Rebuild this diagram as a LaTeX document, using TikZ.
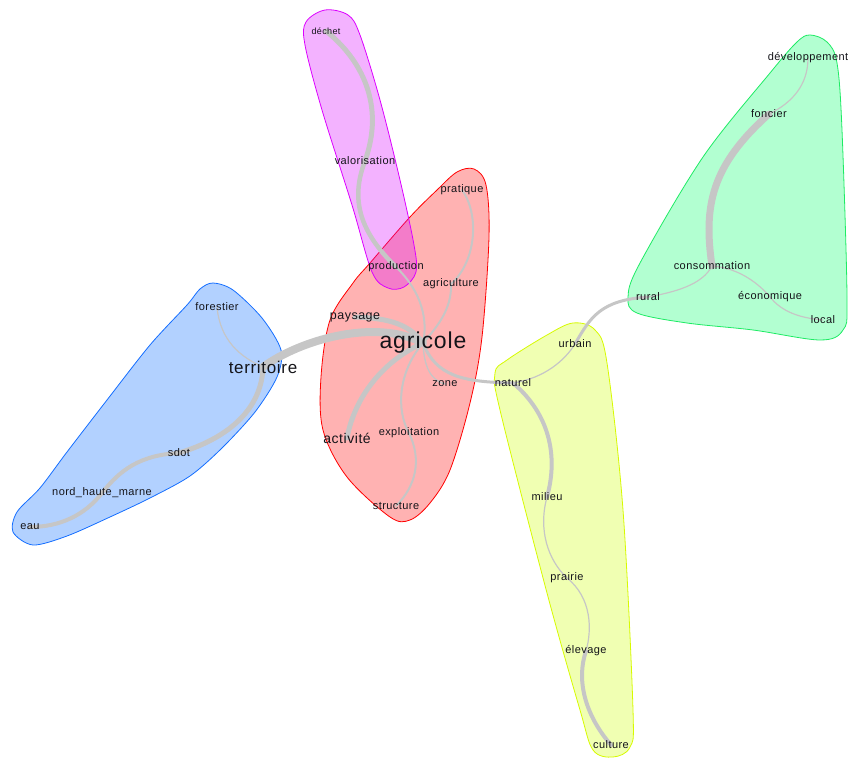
\documentclass[tikz,border=0pt]{standalone}
\usepackage{fontspec}
\setmainfont{Liberation Sans}
\newfontfamily\lblfont[LetterSpace=4]{Liberation Sans}
\pgfdeclarelayer{hulls}
\pgfdeclarelayer{links}
\pgfsetlayers{hulls,links,main}

\definecolor{cPurple}{RGB}{215,0,255}
\definecolor{cRed}{RGB}{255,0,0}
\definecolor{cBlue}{RGB}{0,102,255}
\definecolor{cGreen}{RGB}{0,255,102}
\definecolor{cYellow}{RGB}{204,255,0}
\definecolor{bPurple}{RGB}{220,0,255}
\definecolor{bRed}{RGB}{255,0,0}
\definecolor{bBlue}{RGB}{20,110,255}
\definecolor{bGreen}{RGB}{30,235,100}
\definecolor{bYellow}{RGB}{215,250,0}
\definecolor{linkgray}{RGB}{198,198,198}
\definecolor{wordink}{RGB}{20,20,25}

\begin{document}
\begin{tikzpicture}[x=1pt,y=-1pt,
  word/.style={inner sep=0pt, text=wordink, font=\lblfont\fontsize{#1}{#1}\selectfont},
  word/.default=11,
  lnk/.style={draw=linkgray, line width=#1, line cap=round},
  lnk/.default=1.4pt,
  hull/.style n args={2}{draw=#2, fill=#1, fill opacity=0.3, line width=0.8pt}
]
\useasboundingbox (0,0) rectangle (849,762);

% ---- words ----
\node[word=9]  (dechet)       at (326,31)  {déchet};
\node[word]    (valor)        at (365,161) {valorisation};
\node[word]    (production)   at (396,267) {production};
\node[word]    (pratique)     at (462,190) {pratique};
\node[word]    (agriculture)  at (451,284) {agriculture};
\node[word=12.5] (paysage)    at (355,317) {paysage};
\node[word=23] (agricole)     at (423,343) {agricole};
\node[word]    (zone)         at (445,384) {zone};
\node[word=14] (activite)     at (347,438) {activité};
\node[word]    (exploitation) at (409,433) {exploitation};
\node[word]    (structure)    at (396,506) {structure};

\node[word]    (forestier)    at (217,307) {forestier};
\node[word=17] (territoire)   at (263,367) {territoire};
\node[word]    (sdot)         at (179,453) {sdot};
\node[word]    (nord)         at (102,493) {nord\_haute\_marne};
\node[word]    (eau)          at (30,527)  {eau};

\node[word]    (dev)          at (808,58)  {développement};
\node[word]    (foncier)      at (769,114) {foncier};
\node[word]    (conso)        at (712,266) {consommation};
\node[word]    (rural)        at (648,297) {rural};
\node[word]    (economique)   at (770,297) {économique};
\node[word]    (local)        at (823,320) {local};

\node[word]    (urbain)       at (575,344) {urbain};
\node[word]    (naturel)      at (513,383) {naturel};
\node[word]    (milieu)       at (547,497) {milieu};
\node[word]    (prairie)      at (567,578) {prairie};
\node[word]    (elevage)      at (586,651) {élevage};
\node[word]    (culture)      at (611,745) {culture};

% ---- co-occurrence links ----
\begin{pgfonlayer}{links}
\draw[lnk=5pt] (dechet.center) .. controls (362,60) and (385,105) .. (valor.center);
\draw[lnk=4.5pt] (valor.center) .. controls (350,200) and (360,232) .. (production.center);
\draw[lnk=2pt] (production.center) .. controls (422,292) and (428,320) .. (agricole.center);
\draw[lnk=2pt] (pratique.center) .. controls (480,215) and (476,262) .. (agriculture.center);
\draw[lnk=2pt] (agriculture.center) .. controls (452,310) and (436,328) .. (agricole.center);
\draw[lnk=5pt] (paysage.center) .. controls (390,318) and (410,325) .. (agricole.center);
\draw[lnk=8pt] (territoire.center) .. controls (300,340) and (375,318) .. (agricole.center);
\draw[lnk=5pt] (activite.center) .. controls (355,395) and (385,360) .. (agricole.center);
\draw[lnk=2pt] (agricole.center) .. controls (398,372) and (396,410) .. (exploitation.center);
\draw[lnk=2pt] (exploitation.center) .. controls (422,460) and (416,486) .. (structure.center);
\draw[lnk=1.3pt] (agricole.center) .. controls (424,366) and (430,380) .. (zone.center);
\draw[lnk=3pt] (agricole.center) .. controls (436,376) and (462,382) .. (naturel.center);

\draw[lnk=1.2pt] (forestier.center) .. controls (220,340) and (240,357) .. (territoire.center);
\draw[lnk=5pt] (territoire.center) .. controls (262,402) and (238,435) .. (sdot.center);
\draw[lnk=4pt] (sdot.center) .. controls (140,455) and (120,470) .. (nord.center);
\draw[lnk=4pt] (nord.center) .. controls (85,515) and (60,527) .. (eau.center);

\draw[lnk=1.2pt] (naturel.center) .. controls (545,378) and (565,360) .. (urbain.center);
\draw[lnk=3pt] (urbain.center) .. controls (590,318) and (600,300) .. (rural.center);
\draw[lnk=4pt] (naturel.center) .. controls (545,410) and (560,450) .. (milieu.center);
\draw[lnk=1.2pt] (milieu.center) .. controls (538,530) and (548,560) .. (prairie.center);
\draw[lnk=1.2pt] (prairie.center) .. controls (592,598) and (592,630) .. (elevage.center);
\draw[lnk=4pt] (elevage.center) .. controls (576,680) and (585,715) .. (culture.center);

\draw[lnk=1.2pt] (rural.center) .. controls (675,292) and (702,285) .. (conso.center);
\draw[lnk=7pt] (conso.center) .. controls (703,205) and (712,165) .. (foncier.center);
\draw[lnk=1.2pt] (foncier.center) .. controls (792,103) and (808,85) .. (dev.center);
\draw[lnk=1.2pt] (conso.center) .. controls (740,268) and (760,285) .. (economique.center);
\draw[lnk=1.2pt] (economique.center) .. controls (782,312) and (800,318) .. (local.center);
\end{pgfonlayer}

% ---- community hulls ----
\begin{pgfonlayer}{hulls}
\path[hull={cRed}{bRed}] plot[smooth cycle, tension=0.55] coordinates {
  (457,172) (474,169) (486,185) (489,237) (482,337) (470,403) (450,470)
  (430,503) (410,520) (390,517) (347,477) (323,430) (321,377) (330,320)
  (353,283) (370,263) (410,217) (437,190)};
\path[hull={cPurple}{bPurple}] plot[smooth cycle, tension=0.55] coordinates {
  (306,22) (325,10) (348,15) (360,35) (380,100) (400,180) (414,245)
  (416,272) (404,287) (388,288) (372,272) (352,205) (322,110) (305,45)};
\path[hull={cBlue}{bBlue}] plot[smooth cycle, tension=0.5] coordinates {
  (213,283) (233,290) (262,318) (281,350) (277,377) (255,412) (222,448)
  (190,476) (150,498) (110,517) (67,536) (33,545) (13,532) (17,512)
  (40,488) (67,452) (107,400) (150,345) (187,305) (200,289)};
\path[hull={cGreen}{bGreen}] plot[smooth cycle, tension=0.55] coordinates {
  (810,35) (827,42) (837,63) (842,130) (847,297) (843,330) (820,340)
  (753,330) (687,323) (637,313) (628,297) (640,263) (703,157) (770,73)
  (797,42)};
\path[hull={cYellow}{bYellow}] plot[smooth cycle, tension=0.55] coordinates {
  (573,323) (595,330) (607,363) (623,510) (633,710) (630,747) (613,757)
  (593,750) (580,710) (547,593) (500,410) (495,373) (507,360) (547,335)};
\end{pgfonlayer}
\end{tikzpicture}
\end{document}
